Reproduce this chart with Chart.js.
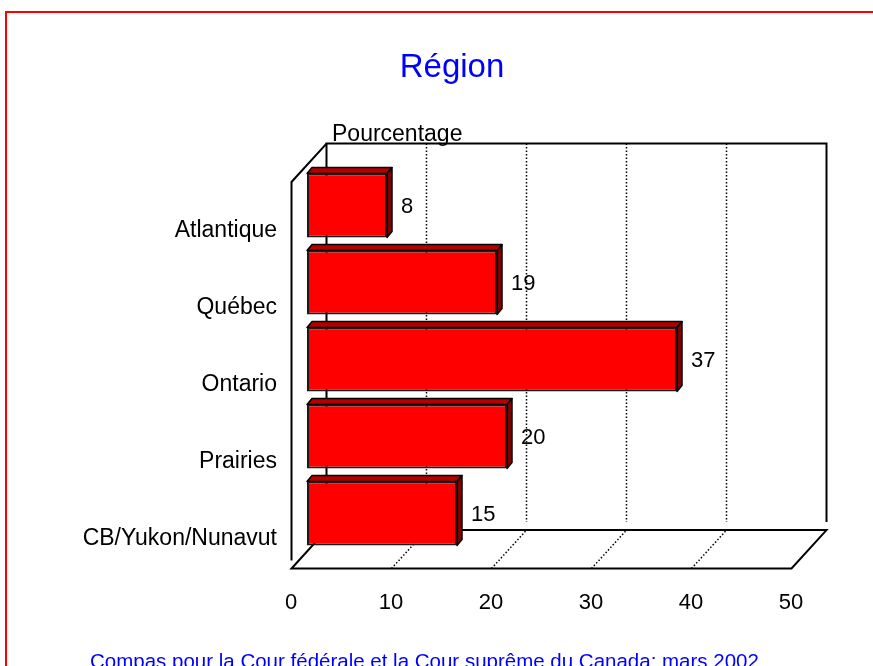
<!DOCTYPE html>
<html>
<head>
<meta charset="utf-8">
<title>Région</title>
<script src="https://cdn.jsdelivr.net/npm/chart.js@4.4.1/dist/chart.umd.min.js"></script>
<style>
    html, body { margin: 0; padding: 0; width: 873px; height: 666px; overflow: hidden; background: #fff; }
    #frame { position: absolute; left: 5px; top: 11px; width: 900px; height: 700px; border-left: 2px solid #ff0000; border-top: 2px solid #ff0000; }
    #chart { position: absolute; left: 0; top: 0; width: 873px; height: 666px; }
    .txt { position: absolute; font-family: "Liberation Sans", Arial, sans-serif; line-height: 1; white-space: nowrap; }
    #title { left: 452px; top: 49px; transform: translateX(-50%); font-size: 33px; color: #0000ff; }
    #unit { left: 332px; top: 122px; font-size: 23px; color: #000; }
    #source { left: 90px; top: 651px; font-size: 20.5px; color: #0000ff; }
</style>
</head>
<body>
<div id="frame"></div>
<canvas id="chart" width="873" height="666"></canvas>
<div class="txt" id="title">Région</div>
<div class="txt" id="unit">Pourcentage</div>
<div class="txt" id="source">Compas pour la Cour fédérale et la Cour suprême du Canada: mars 2002</div>
<script>
const categories = ['Atlantique', 'Québec', 'Ontario', 'Prairies', 'CB/Yukon/Nunavut'];
const percentages = [8, 19, 37, 20, 15];
const xTicks = [0, 10, 20, 30, 40, 50];

const FONT = '"Liberation Sans", Arial, sans-serif';

// décalages de la boîte 3D
const FRONT_DX = -15.5;             // arête avant par rapport au plan des barres
const DEPTH = {dx: 35, dy: -38.4};  // profondeur de la boîte
const BAR_DEPTH = {dx: 5, dy: -6};
const WALL_GAP = 8;

const box3d = {
    id: 'box3d',
    beforeDatasetsDraw(chart) {
        const {ctx, chartArea: a, scales: {x}} = chart;
        const fx = v => x.getPixelForValue(v) + FRONT_DX;
        const bx = v => fx(v) + DEPTH.dx;
        const lo = xTicks[0], hi = xTicks[xTicks.length - 1];
        const frontTop = a.top + 15, frontFloor = a.bottom + 16.5;
        const backTop = frontTop + DEPTH.dy, backFloor = frontFloor + DEPTH.dy;

        const path = (pts, close) => {
            ctx.beginPath();
            ctx.moveTo(pts[0][0], pts[0][1]);
            pts.slice(1).forEach(p => ctx.lineTo(p[0], p[1]));
            if (close) ctx.closePath();
        };

        ctx.save();
        ctx.strokeStyle = '#000';

        // lignes pointillées (mur du fond + plancher)
        ctx.setLineDash([1.5, 2]);
        ctx.lineWidth = 1.5;
        xTicks.slice(1, -1).forEach(v => {
            path([[bx(v), backTop], [bx(v), backFloor - WALL_GAP]]);
            ctx.stroke();
            path([[fx(v), frontFloor], [bx(v), backFloor]]);
            ctx.stroke();
        });
        ctx.setLineDash([]);
        ctx.lineWidth = 2;

        // mur du fond
        path([[bx(lo), backFloor], [bx(lo), backTop], [bx(hi), backTop], [bx(hi), backFloor - WALL_GAP]]);
        ctx.stroke();
        // mur de gauche
        path([[fx(lo), frontFloor - WALL_GAP], [fx(lo), frontTop], [bx(lo), backTop]]);
        ctx.stroke();
        // plancher
        path([[fx(lo), frontFloor], [fx(hi), frontFloor], [bx(hi), backFloor], [bx(lo), backFloor]], true);
        ctx.stroke();

        // faces du dessus et de côté des barres
        ctx.lineWidth = 1.5;
        ctx.lineJoin = 'round';
        chart.getDatasetMeta(0).data.forEach(bar => {
            const {x: xr, y, base, height} = bar.getProps(['x', 'y', 'base', 'height'], true);
            const top = y - height / 2, bottom = y + height / 2;
            ctx.fillStyle = '#b40000';
            path([[base, top], [xr, top], [xr + BAR_DEPTH.dx, top + BAR_DEPTH.dy], [base + BAR_DEPTH.dx, top + BAR_DEPTH.dy]], true);
            ctx.fill();
            ctx.stroke();
            ctx.fillStyle = '#800000';
            path([[xr, top], [xr + BAR_DEPTH.dx, top + BAR_DEPTH.dy], [xr + BAR_DEPTH.dx, bottom + BAR_DEPTH.dy], [xr, bottom]], true);
            ctx.fill();
            ctx.stroke();
        });
        ctx.restore();
    },
    afterDatasetsDraw(chart) {
        const ctx = chart.ctx;
        ctx.save();
        ctx.fillStyle = '#000';
        ctx.font = '22px ' + FONT;
        ctx.textAlign = 'left';
        ctx.textBaseline = 'middle';
        chart.getDatasetMeta(0).data.forEach((bar, i) => {
            ctx.fillText(String(percentages[i]), bar.x + 14, bar.y + 1);
        });
        ctx.restore();
    }
};

try {
    new Chart(document.getElementById('chart'), {
        type: 'bar',
        data: {
            labels: categories,
            datasets: [{
                data: percentages,
                backgroundColor: '#ff0000',
                borderColor: '#1a1a1a',
                borderWidth: 2,
                borderSkipped: false,
                barPercentage: 0.83,
                categoryPercentage: 1,
            }]
        },
        options: {
            indexAxis: 'y',
            responsive: false,
            animation: false,
            devicePixelRatio: 1,
            layout: {padding: {top: 167, right: 66, left: 0, bottom: 0}},
            plugins: {
                legend: {display: false},
                tooltip: {enabled: false},
                title: {display: false},
            },
            scales: {
                x: {
                    min: xTicks[0],
                    max: xTicks[xTicks.length - 1],
                    afterBuildTicks: s => { s.ticks = xTicks.map(v => ({value: v})); },
                    afterFit: s => { s.height = 114; },
                    grid: {display: false, drawTicks: false},
                    border: {display: false},
                    ticks: {
                        padding: 38,
                        labelOffset: -16,
                        color: '#000',
                        maxRotation: 0,
                        autoSkip: false,
                        font: {family: FONT, size: 22},
                    },
                },
                y: {
                    afterFit: s => { s.width = 307; },
                    grid: {display: false, drawTicks: false},
                    border: {display: false},
                    ticks: {
                        padding: 30,
                        labelOffset: 25,
                        color: '#000',
                        font: {family: FONT, size: 23},
                    },
                },
            },
        },
        plugins: [box3d],
    });
} catch (error) {
    console.error('Erreur lors de la création du graphique:', error);
}
</script>
</body>
</html>
